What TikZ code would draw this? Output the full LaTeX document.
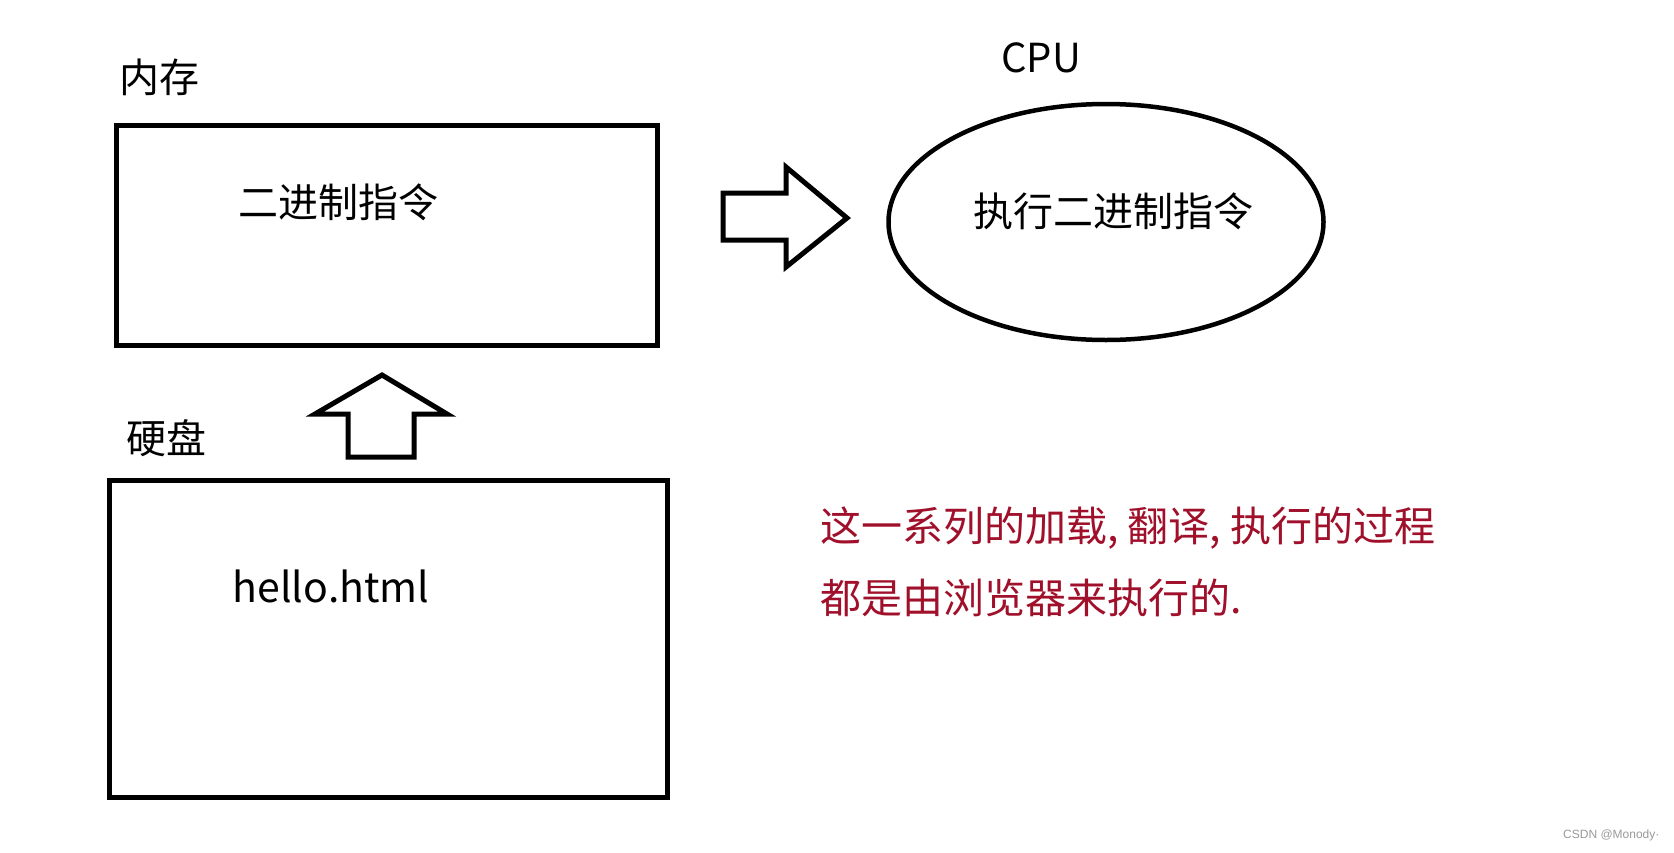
\documentclass[tikz,border=0pt]{standalone}
\usepackage{fontspec}
\setmainfont{Noto Sans CJK SC}
\newfontfamily\wmfont{Liberation Sans}
\usetikzlibrary{shapes.geometric}
\definecolor{darkred}{HTML}{A0102A}
\definecolor{wmgrey}{HTML}{9A9A9A}
\begin{document}
\begin{tikzpicture}[x=1pt,y=-1pt,
  boxline/.style={draw=black,line width=5pt},
  lbl/.style={inner sep=0pt,font=\fontsize{40}{48}\selectfont},
  redtxt/.style={inner sep=0pt,anchor=west,text=darkred,font=\fontsize{41}{48}\selectfont}]
\useasboundingbox (0,0) rectangle (1674,852);
\fill[white] (0,0) rectangle (1674,852);
% memory box
\node[boxline,rectangle,minimum width=541pt,minimum height=220pt,inner sep=0pt] (mem) at (386.5,235) {};
\node[lbl] (memlbl) at (159,77) {内存};
\node[lbl] (bin) at (338,202) {二进制指令};
% disk box
\node[boxline,rectangle,minimum width=558pt,minimum height=317pt,inner sep=0pt] (disk) at (388,638.5) {};
\node[lbl] (disklbl) at (166,438) {硬盘};
\node[lbl,font=\fontsize{41}{50}\selectfont] (hello) at (331,586) {hello.html};
% CPU ellipse
\node[ellipse,draw=black,line width=4.5pt,minimum width=435pt,minimum height=236pt,inner sep=0pt] (cpu) at (1106,222) {};
\node[lbl] (cpulbl) at (1041,58) {CPU};
\node[lbl] (exec) at (1113,211) {执行二进制指令};
% up arrow
\draw[line width=5pt,line join=miter] (348,457) -- (348,414) -- (315,414) -- (382,375) -- (447,414) -- (414,414) -- (414,457) -- cycle;
% right arrow
\draw[line width=5pt,line join=miter] (723,193) -- (786,193) -- (786,167) -- (847,218) -- (786,267) -- (786,240) -- (723,240) -- cycle;
% red text
\node[redtxt] (l1) at (820,528) {这一系列的加载, 翻译, 执行的过程};
\node[redtxt] (l2) at (820,598) {都是由浏览器来执行的.};
% watermark
\node[inner sep=0pt,anchor=west,text=wmgrey,font=\wmfont\fontsize{12}{14}\selectfont] (wm) at (1563,835) {CSDN @Monody·};
\end{tikzpicture}
\end{document}
